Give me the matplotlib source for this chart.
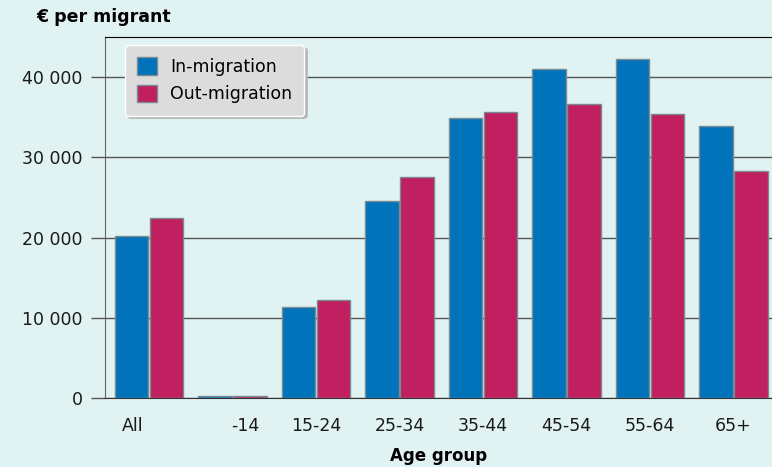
import matplotlib

matplotlib.use("Agg")
import matplotlib.pyplot as plt  # noqa: E402
import matplotlib.transforms as mtransforms  # noqa: E402
import numpy as np  # noqa: E402

groups = ["All", "-14", "15-24", "25-34", "35-44", "45-54", "55-64", "65+"]
in_migration = [20200, 250, 11400, 24600, 34900, 41000, 42200, 33900]
out_migration = [22500, 250, 12200, 27600, 35600, 36600, 35400, 28300]
yticks = [0, 10000, 20000, 30000, 40000]

BG = "#e1f2f2"
BLUE = "#0073bb"
MAGENTA = "#c01f60"

plt.rcParams["font.family"] = ["DejaVu Sans"]

fig = plt.figure(figsize=(7.72, 4.67), dpi=100, facecolor=BG)
ax = fig.add_axes([105 / 772, 1 - 398 / 467, 667 / 772, 361 / 467])
ax.set_facecolor(BG)

x = np.arange(len(groups))
w = 0.40
ax.bar(x - 0.21, in_migration, w, color=BLUE, edgecolor="#7a8a90", lw=1,
       label="In-migration", zorder=3)
ax.bar(x + 0.21, out_migration, w, color=MAGENTA, edgecolor="#7a8a90", lw=1,
       label="Out-migration", zorder=3)

ax.set_xlim(-0.527, 7.46)
ax.set_ylim(0, 45000)
ax.set_yticks(yticks)
ax.set_yticklabels([f"{v:,}".replace(",", " ") for v in yticks], fontsize=12.5, color="#1a1a1a")
ax.yaxis.grid(True, color="#555555", lw=1, zorder=1)
ax.tick_params(axis="y", length=10, width=1, color="#555555", pad=6)

ax.set_xticks(x)
ax.set_xticklabels(groups, fontsize=12.5, color="#1a1a1a")
ax.tick_params(axis="x", length=0, pad=14)
# the first two labels sit off their group centres
shifts = [-16, 13]
for lab, dx in zip(ax.get_xticklabels()[:2], shifts):
    lab.set_transform(lab.get_transform() + mtransforms.ScaledTranslation(dx / 100, 0, fig.dpi_scale_trans))

ax.spines["right"].set_visible(False)
ax.spines["top"].set_color("black")
ax.spines["left"].set_color("#666666")
ax.spines["bottom"].set_color("#333333")

ax.set_xlabel("Age group", fontsize=12, fontweight="bold", labelpad=8)
fig.text(36 / 772, 1 - 17 / 467, "€ per migrant", fontsize=12.5, fontweight="bold",
         va="center", ha="left")

leg = ax.legend(loc="upper left", bbox_to_anchor=(20 / 667, 1 - 8 / 361), fontsize=12.5,
                frameon=True, fancybox=True, shadow={"color": "#b8b8b8", "alpha": 1},
                handlelength=1.15, handleheight=1.2, borderpad=0.7, labelspacing=0.5,
                handletextpad=0.75, borderaxespad=0)
leg.get_frame().set_facecolor("#dcdcdc")
leg.get_frame().set_edgecolor("white")
leg.get_frame().set_alpha(1)
for h in leg.legend_handles:
    h.set_edgecolor("#7a8a90")

fig.savefig("out.png", dpi=100, facecolor=BG)
